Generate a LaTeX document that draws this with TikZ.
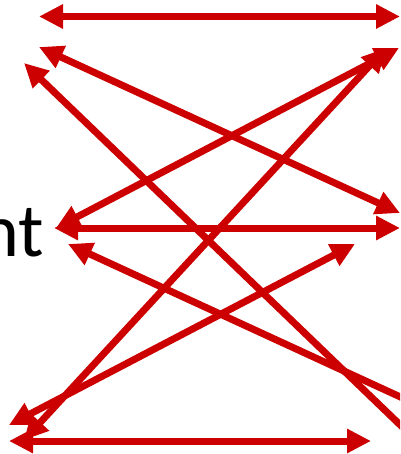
\documentclass[tikz,border=0pt]{standalone}
\usepackage{fontspec}
\setmainfont{Carlito}
\usetikzlibrary{arrows.meta}
\definecolor{arrowred}{RGB}{204,0,0}
\begin{document}
\begin{tikzpicture}[x=1pt,y=-1pt,
  tip/.style={Triangle[length=24pt,width=23pt]},
  link/.style={draw=arrowred, line width=7pt, {Triangle[length=24pt,width=23pt]}-{Triangle[length=24pt,width=23pt]}},
  halflink/.style={draw=arrowred, line width=7pt, {Triangle[length=24pt,width=23pt]}-},
  lbl/.style={font=\fontsize{76}{80}\selectfont, inner sep=0pt, anchor=base east, text=black}]
\useasboundingbox (0,0) rectangle (400,454);
\clip (0,0) rectangle (400,454);
\node[lbl] (label) at (44,256) {nt};
% end points
\coordinate (topL) at (39,16.5);
\coordinate (topR) at (400,16.5);
\coordinate (bL) at (39,47);
\coordinate (bR) at (400,213);
\coordinate (cL) at (24,63);
\coordinate (cOut) at (420,444);
\coordinate (dL) at (56,228);
\coordinate (dR) at (399,48);
\coordinate (mL) at (54,228);
\coordinate (mR) at (400,228);
\coordinate (sL) at (24,440);
\coordinate (sR) at (386,48);
\coordinate (lL) at (9,425);
\coordinate (lR) at (355,244);
\coordinate (eL) at (68,244);
\coordinate (eOut) at (420,406);
\coordinate (botL) at (9,441);
\coordinate (botR) at (371,441);
% connectors
\draw[link] (topL) -- (topR);
\draw[link] (bL) -- (bR);
\draw[halflink] (cL) -- (cOut);
\draw[link] (dL) -- (dR);
\draw[link] (mL) -- (mR);
\draw[link] (sL) -- (sR);
\draw[link] (lL) -- (lR);
\draw[halflink] (eL) -- (eOut);
\draw[link] (botL) -- (botR);
\end{tikzpicture}
\end{document}
